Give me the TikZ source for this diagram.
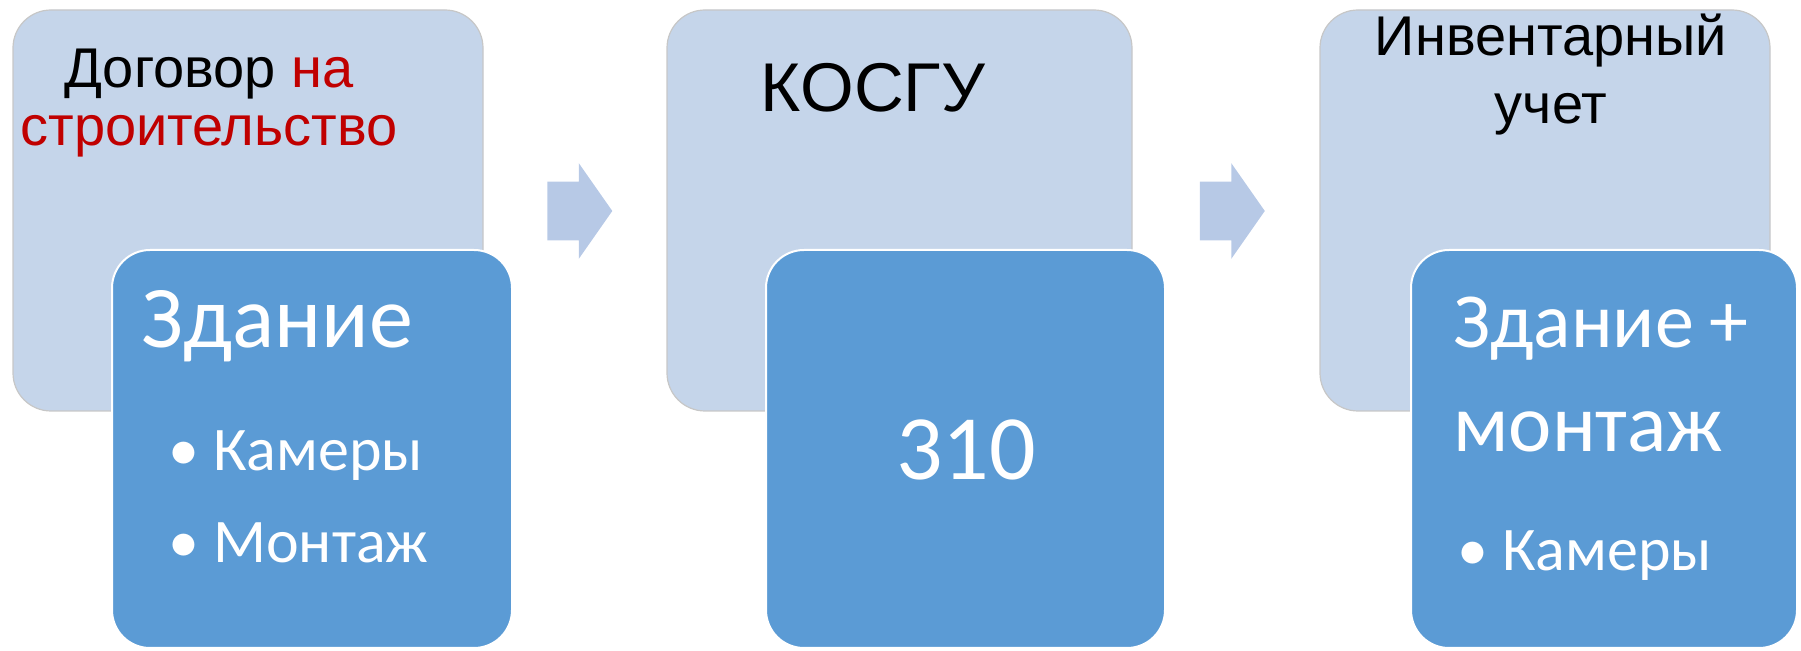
\documentclass[tikz,border=0pt]{standalone}
\usepackage{fontspec}
\setmainfont{Liberation Sans}
\newfontfamily\calibri{Carlito}
\usetikzlibrary{shapes.arrows, positioning}

\definecolor{backblue}{RGB}{197,213,234}
\definecolor{frontblue}{RGB}{91,155,213}
\definecolor{arrowblue}{RGB}{183,201,230}
\definecolor{darkred}{RGB}{192,0,0}

\begin{document}
\begin{tikzpicture}[x=0.5pt, y=-0.5pt,
        backbox/.style={draw=black!22, line width=0.6pt, fill=backblue, rounded corners=19pt, inner sep=0pt, minimum height=200.5pt},
        frontbox/.style={draw=white, line width=1pt, fill=frontblue, rounded corners=19pt, inner sep=0pt, minimum height=199pt},
        chevron/.style={single arrow, fill=arrowblue, inner sep=0pt, inner ysep=14.5pt, minimum height=32.5pt, single arrow head extend=9.25pt, single arrow tip angle=110},
        toptext/.style={align=center, anchor=base, inner sep=0pt},
        boxtext/.style={font=\calibri, text=white, anchor=base west, inner sep=0pt}]

        \useasboundingbox (0,0) rectangle (1801,651);

        % back boxes
        \node[backbox, minimum width=235pt] (back1) at (248,210.5) {};
        \node[backbox, minimum width=232.5pt] (back2) at (899.5,210.5) {};
        \node[backbox, minimum width=225pt] (back3) at (1545,210.5) {};

        % last line sits on the base anchor
        \node[toptext, font=\fontsize{28}{29}\selectfont] (dogovor) at (209,146) {Договор \textcolor{darkred}{на}\\\textcolor{darkred}{строительство}};
        \node[toptext, font=\fontsize{34.5}{40}\selectfont] (kosgu) at (873,112) {КОСГУ};
        \node[toptext, font=\fontsize{28}{34}\selectfont] (uchet) at (1551,124) {Инвентарный\\учет};

        % arrows
        \node[chevron] (arr1) at (569.5,211) {};
        \node[chevron] (arr2) at (1222,211) {};

        % front boxes
        \node[frontbox, minimum width=200pt] (front1) at (312,449) {};
        \node[frontbox, minimum width=199.5pt] (front2) at (965.5,449) {};
        \node[frontbox, minimum width=193pt] (front3) at (1604,449) {};

        \node[boxtext, font=\calibri\fontsize{44}{50}\selectfont] (zdanie1) at (141,348) {Здание};
        \node[boxtext, font=\calibri\fontsize{31}{36}\selectfont] (kamery1) at (168,471) {• Камеры};
        \node[boxtext, font=\calibri\fontsize{31}{36}\selectfont] (montazh1) at (168,563) {• Монтаж};

        \node[boxtext, anchor=base, font=\calibri\fontsize{46}{50}\selectfont] (num) at (966,480) {310};

        \node[boxtext, font=\calibri\fontsize{39}{50}\selectfont] (zdanie3) at (1453,348) {Здание\hspace{0.2em}+};
        \node[boxtext, font=\calibri\fontsize{41}{50}\selectfont] (montazh3) at (1453,452) {монтаж};
        \node[boxtext, font=\calibri\fontsize{31}{36}\selectfont] (kamery3) at (1457,571) {• Камеры};
\end{tikzpicture}
\end{document}
